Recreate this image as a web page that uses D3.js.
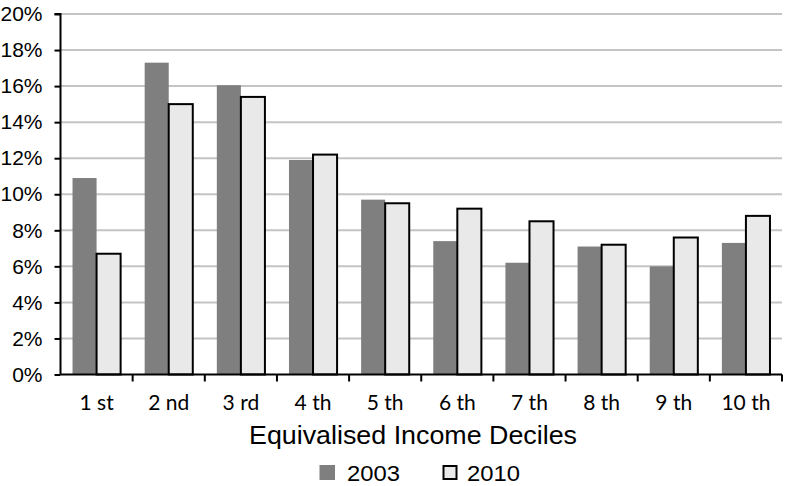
<!DOCTYPE html>
<html><head><meta charset="utf-8">
<script src="https://cdnjs.cloudflare.com/ajax/libs/d3/7.8.5/d3.min.js"></script>
<style>body{margin:0;background:#fff;} svg{display:block;}</style>
</head><body>
<svg id="chart" width="786" height="486"></svg>
<script>
const categories = ["1 st","2 nd","3 rd","4 th","5 th","6 th","7 th","8 th","9 th","10 th"];
const values2003 = [10.9, 17.3, 16.05, 11.9, 9.7, 7.4, 6.2, 7.1, 6.0, 7.3];
const values2010 = [6.7, 15.0, 15.4, 12.2, 9.5, 9.2, 8.5, 7.2, 7.6, 8.8];
const seriesNames = ["2003","2010"];
const yTicks = [0,2,4,6,8,10,12,14,16,18,20];

const svg = d3.select("#chart");
const mLeft = 60.5, mRight = 782, mTop = 14, mBottom = 374.5;
const helv = "Liberation Sans, Arial, Helvetica, sans-serif";

const x = d3.scaleBand().domain(categories).range([mLeft, mRight]).paddingInner(0).paddingOuter(0);
const xs = d3.scaleBand().domain(seriesNames).range([0, x.bandwidth()]).paddingInner(0).paddingOuter(0.5);
const y = d3.scaleLinear().domain([0,20]).range([mBottom, mTop]);

// gridlines
svg.append("g").selectAll("line").data(yTicks.filter(d=>d>0)).join("line")
  .attr("x1", mLeft).attr("x2", mRight)
  .attr("y1", d=>y(d)).attr("y2", d=>y(d))
  .attr("stroke", "#c4c4c4").attr("stroke-width", 2);

const data = categories.map((c,i)=>({c, v:[values2003[i], values2010[i]]}));
const g = svg.append("g");
data.forEach(d=>{
  g.append("rect")
    .attr("x", x(d.c)+xs("2003")).attr("width", xs.bandwidth())
    .attr("y", y(d.v[0])).attr("height", y(0)-y(d.v[0]))
    .attr("fill", "#7f7f7f");
  g.append("rect")
    .attr("x", x(d.c)+xs("2010")).attr("width", xs.bandwidth())
    .attr("y", y(d.v[1])).attr("height", y(0)-y(d.v[1]))
    .attr("fill", "#e9e9e9").attr("stroke", "#000").attr("stroke-width", 2);
});

// y axis
const yAxis = d3.axisLeft(y).tickValues(yTicks).tickFormat(d=>d+"%").tickSize(6).tickPadding(12);
const ya = svg.append("g").attr("transform", `translate(${mLeft},0)`).call(yAxis);
ya.select(".domain").attr("stroke", "#000").attr("stroke-width", 2).attr("d", `M-6,${mTop}H0V${mBottom}`);
ya.selectAll(".tick line").attr("stroke", "#000").attr("stroke-width", 2);
ya.selectAll("text").attr("font-family", helv).attr("font-size", 21).attr("fill", "#000");

// x axis
const xAxis = d3.axisBottom(x).tickSize(0);
const xa = svg.append("g").attr("transform", `translate(0,${mBottom})`).call(xAxis);
xa.select(".domain").attr("stroke", "#000").attr("stroke-width", 2).attr("d", `M${mLeft},0H${mRight}`);
xa.selectAll("text").attr("y", 35.5).attr("dy", 0)
  .attr("font-family", "Lato, sans-serif").attr("font-size", 21).attr("fill", "#000");
// boundary ticks
svg.append("g").selectAll("line").data(categories.map(c=>x(c)+x.bandwidth())).join("line")
  .attr("x1", d=>d).attr("x2", d=>d).attr("y1", mBottom).attr("y2", mBottom+7)
  .attr("stroke", "#000").attr("stroke-width", 2);

// axis title
svg.append("text").attr("x", 249).attr("y", 444)
  .attr("font-family", helv).attr("font-size", 25).attr("fill", "#000")
  .attr("textLength", 328).attr("lengthAdjust", "spacingAndGlyphs")
  .text("Equivalised Income Deciles");

// legend
const legend = svg.append("g");
const lx = [319.5, 443.5];
const tx = [347, 467];
seriesNames.forEach((s,i)=>{
  legend.append("rect").attr("x", lx[i]).attr("y", i?466:465).attr("width", i?13:15.5).attr("height", i?13:15)
    .attr("fill", i? "#e9e9e9":"#7f7f7f").attr("stroke", i?"#000":"none").attr("stroke-width", 2);
  legend.append("text").attr("x", tx[i]).attr("y", 481)
    .attr("font-family", helv).attr("font-size", 22).attr("fill", "#000")
    .attr("textLength", 53).attr("lengthAdjust", "spacingAndGlyphs").text(s);
});
</script>
</body></html>
